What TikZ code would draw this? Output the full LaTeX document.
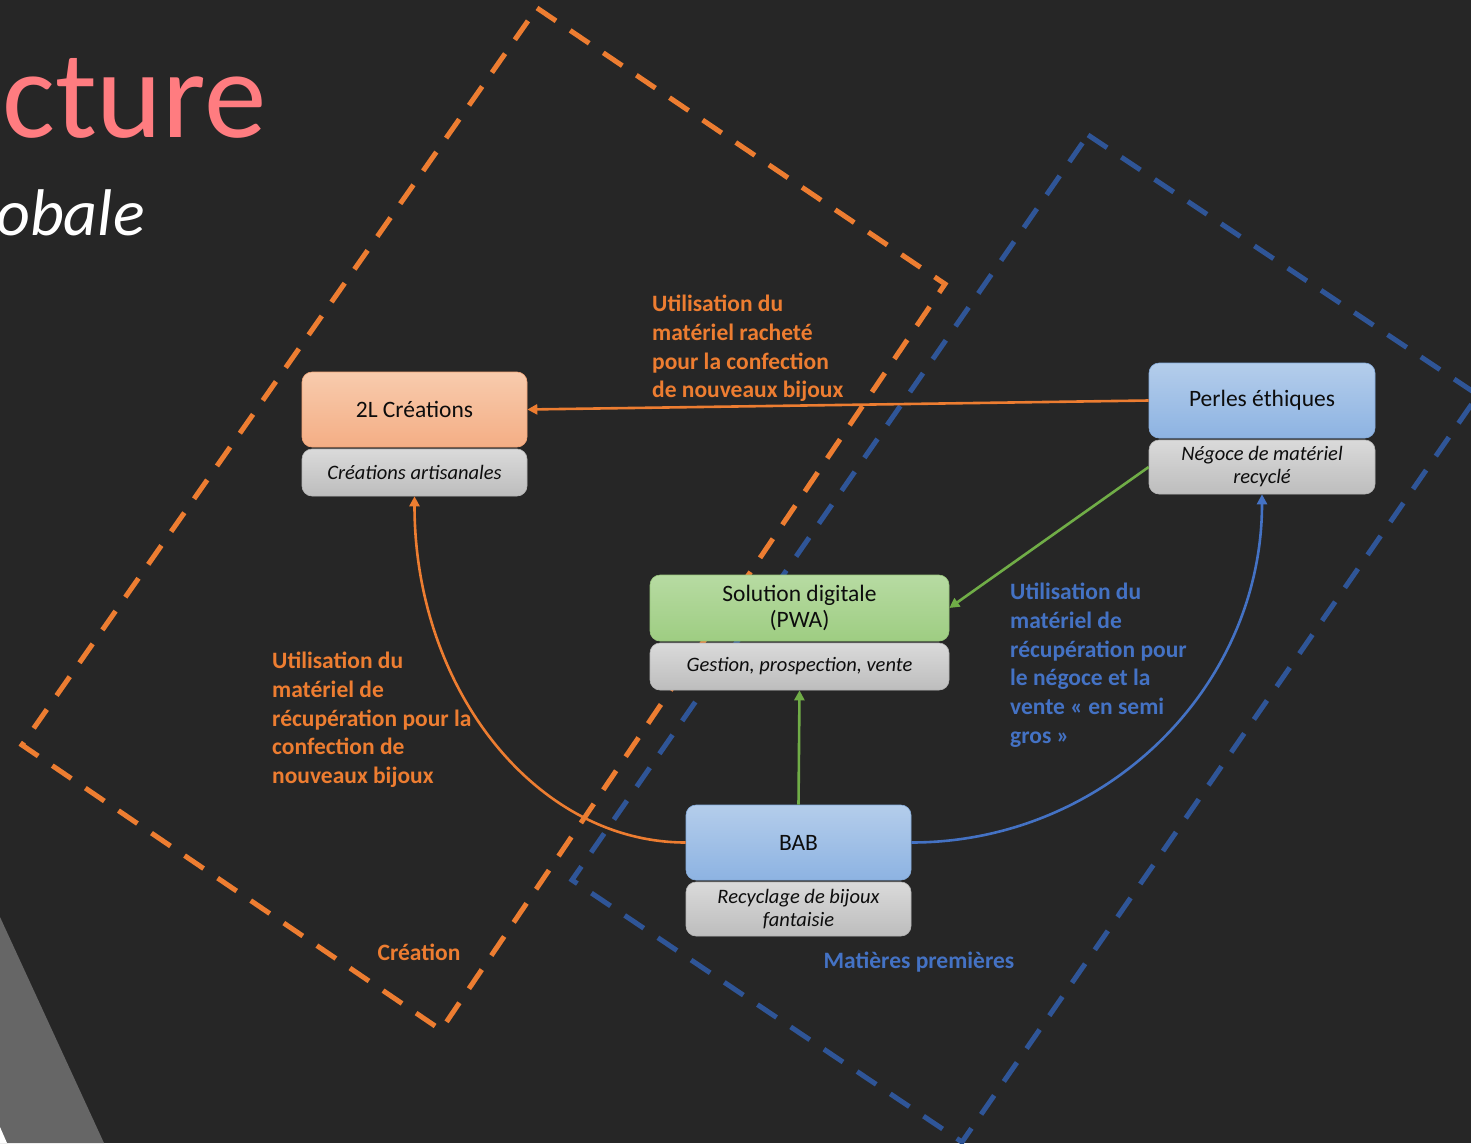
\documentclass[tikz,border=0pt]{standalone}
\usepackage{fontspec}
\setmainfont{Carlito}
\usetikzlibrary{arrows.meta}
\definecolor{bg}{HTML}{262626}
\definecolor{oran}{HTML}{ED7D31}
\definecolor{blu}{HTML}{4472C4}
\definecolor{dblu}{HTML}{2F5597}
\definecolor{grn}{HTML}{70AD47}
\definecolor{pink}{HTML}{FF7C80}
\definecolor{ink}{HTML}{0D0D0D}
\definecolor{decogray}{HTML}{666666}
\definecolor{otop}{HTML}{F8CBAD}
\definecolor{obot}{HTML}{F4AE85}
\definecolor{odraw}{HTML}{F2A477}
\definecolor{btop}{HTML}{B4CDEB}
\definecolor{bbot}{HTML}{8DB3E2}
\definecolor{bdraw}{HTML}{86ACDC}
\definecolor{gtop}{HTML}{B7DBA2}
\definecolor{gbot}{HTML}{9ECD82}
\definecolor{gdraw}{HTML}{98C67C}
\definecolor{ytop}{HTML}{DADADA}
\definecolor{ybot}{HTML}{BDBDBD}
\definecolor{ydraw}{HTML}{B5B5B5}
\tikzset{
  x=1pt, y=-1pt,
  boxbase/.style={rounded corners=10pt, minimum width=225pt, inner sep=2pt, align=center, text=ink,
    font=\fontsize{23.5}{27}\selectfont},
  orangebox/.style={boxbase, minimum height=75pt, top color=otop, bottom color=obot, draw=odraw, line width=0.6pt},
  bluebox/.style={boxbase, minimum height=75pt, top color=btop, bottom color=bbot, draw=bdraw, line width=0.6pt},
  greenbox/.style={boxbase, minimum height=66pt, top color=gtop, bottom color=gbot, draw=gdraw, line width=0.6pt},
  graybox/.style={boxbase, top color=ytop, bottom color=ybot, draw=ydraw, line width=0.6pt,
    font=\fontsize{20.5}{25}\selectfont\itshape},
  zone/.style={line width=5pt, dash pattern=on 23pt off 17pt},
  link/.style={line width=2.6pt, -{Triangle[length=10pt,width=10pt]}},
  lab/.style={inner sep=0pt, anchor=north west, align=left, font=\fontsize{23.5}{28.7}\selectfont\bfseries},
}
\begin{document}
\begin{tikzpicture}
\fill[bg] (0,0) rectangle (1471,1143);
\useasboundingbox (0,0) rectangle (1471,1143);
% bottom-left decoration
\fill[decogray] (0,917) -- (104,1143) -- (0,1143) -- cycle;
\fill[white] (0,1127) -- (7,1143) -- (0,1143) -- cycle;
% title
\node[anchor=base west, inner sep=0pt, text=pink, font=\fontsize{125}{130}\selectfont] (title) at (2,137) {cture};
\node[anchor=base west, inner sep=0pt, text=white, font=\fontsize{66}{70}\selectfont\itshape] (subtitle) at (-4,235) {obale};
% zones
\draw[zone, oran] (537,8) -- (945,284) -- (441,1030) -- (22,745) -- cycle;
\draw[zone, dblu] (1088,135) -- (1478,395) -- (962,1142) -- (572,880) -- cycle;
% boxes
\node[orangebox] (cre) at (414.5,409.5) {2L Créations};
\node[graybox, minimum height=47pt] (cred) at (414.5,472.5) {Créations artisanales};
\node[bluebox, minimum width=226pt] (perles) at (1262,400.5) {Perles éthiques};
\node[graybox, minimum width=226pt, minimum height=54pt] (perlesd) at (1262,467) {Négoce de matériel\\[-2pt]recyclé};
\node[greenbox, minimum width=299pt] (sol) at (799.5,608) {Solution digitale\\[-1pt](PWA)};
\node[graybox, minimum width=299pt, minimum height=47pt] (sold) at (799.5,666.5) {Gestion, prospection, vente};
\node[bluebox] (bab) at (798.5,842.5) {BAB};
\node[graybox, minimum height=54pt] (babd) at (798.5,909) {Recyclage de bijoux\\[-2pt]fantaisie};
% connectors
\draw[link, oran] (perles.west) -- (cre.east);
\draw[link, grn] (perlesd.west) -- (sol.east);
\draw[link, grn] (bab.north) -- (sold.south);
\draw[link, oran] (bab.west) .. controls +(-150,0) and +(0,192) .. (cred.south);
\draw[link, blu] (bab.east) .. controls +(194,0) and +(0,193) .. (perlesd.south);
% labels
\node[lab, text=oran] (l1) at (652,295) {Utilisation du\\matériel racheté\\pour la confection\\de nouveaux bijoux};
\node[lab, text=oran] (l2) at (272,652) {Utilisation du\\matériel de\\récupération pour la\\confection de\\nouveaux bijoux};
\node[lab, text=blu] (l3) at (1010,583) {Utilisation du\\matériel de\\récupération pour\\le négoce et la\\vente « en semi\\gros »};
\node[inner sep=0pt, text=oran, font=\fontsize{23.5}{28}\selectfont\bfseries] (zc) at (419,952) {Création};
\node[inner sep=0pt, text=blu, font=\fontsize{23.5}{28}\selectfont\bfseries] (zm) at (919,962) {Matières premières};
\end{tikzpicture}
\end{document}
